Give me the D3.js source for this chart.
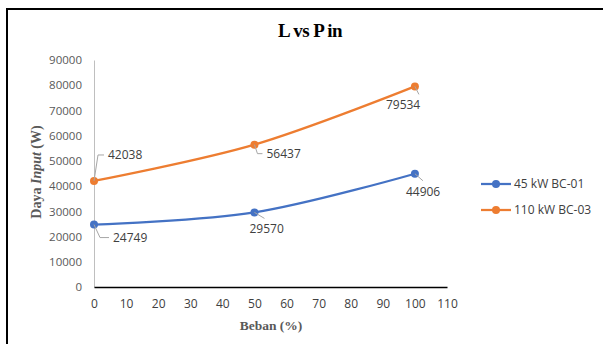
<!DOCTYPE html>
<html>
<head>
<meta charset="utf-8">
<script src="https://cdn.jsdelivr.net/npm/d3@7"></script>
<style>
  body { margin: 0; background: white; }
</style>
</head>
<body>
<div id="container"></div>
<script>
let w = 603;
let h = 344;

// DATA
let beban = [0, 50, 100];
let seriesNames = ["45 kW BC-01", "110 kW BC-03"];
let seriesColors = ["#4472c4", "#ed7d31"];
let bc01 = [24749, 29570, 44906];
let bc03 = [42038, 56437, 79534];
let xTicks = [0, 10, 20, 30, 40, 50, 60, 70, 80, 90, 100, 110];
let yTicks = [0, 10000, 20000, 30000, 40000, 50000, 60000, 70000, 80000, 90000];

// label offsets relative to point (text start x, baseline y)
let labelOffsets = [
  [[19, 17], [-5, 21], [-9, 22]],
  [[14, -22], [12, 13], [-29, 23]]
];

let viz = d3.select("#container").append("svg")
  .attr("width", w)
  .attr("height", h)
  .style("display", "block")
  .style("background-color", "white");

// frame (only top and left edges visible)
viz.append("path")
  .attr("d", "M7,344 L7,9 L603,9")
  .attr("fill", "none")
  .attr("stroke", "black")
  .attr("stroke-width", 2);

let x = d3.scaleLinear().domain([0, 110]).range([94, 447]);
let y = d3.scaleLinear().domain([0, 90000]).range([287, 60]);

let tickFont = "'Open Sans', 'Liberation Sans', sans-serif";
let serif = "'Liberation Serif', 'Times New Roman', serif";

// title
viz.append("text")
  .attr("x", 310)
  .attr("y", 37)
  .attr("text-anchor", "middle")
  .style("font-family", serif)
  .style("font-weight", "bold")
  .style("font-size", "19px")
  .style("letter-spacing", "-0.6px")
  .attr("fill", "black")
  .text("L vs P in");

// y axis
let yAxis = viz.append("g")
  .attr("transform", "translate(" + x(0) + ",0)")
  .call(d3.axisLeft(y).tickValues(yTicks).tickSize(0).tickPadding(12).tickFormat(d3.format("d")));
yAxis.select(".domain").attr("stroke", "#bfbfbf").attr("stroke-width", 1);
yAxis.selectAll("text")
  .style("font-family", tickFont)
  .style("font-size", "11.5px")
  .attr("fill", "#595959");

// x axis
let xAxis = viz.append("g")
  .attr("transform", "translate(0," + y(0) + ")")
  .call(d3.axisBottom(x).tickValues(xTicks).tickSize(0).tickPadding(12).tickFormat(d3.format("d")));
xAxis.select(".domain").attr("stroke", "black").attr("stroke-width", 1.5);
xAxis.selectAll("text")
  .style("font-family", tickFont)
  .style("font-size", "12px")
  .attr("fill", "#404040");

// axis titles
viz.append("text")
  .attr("x", 271)
  .attr("y", 330)
  .attr("text-anchor", "middle")
  .style("font-family", serif)
  .style("font-weight", "bold")
  .style("font-size", "13.5px")
  .attr("fill", "#595959")
  .text("Beban (%)");

let yTitle = viz.append("text")
  .attr("transform", "translate(41,172) rotate(-90)")
  .attr("text-anchor", "middle")
  .style("font-family", serif)
  .style("font-weight", "bold")
  .style("font-size", "14px")
  .attr("fill", "#595959");
yTitle.append("tspan").text("Daya ");
yTitle.append("tspan").style("font-style", "italic").text("Input");
yTitle.append("tspan").text(" (W)");

// series
let allSeries = [bc01, bc03];
let lineMaker = d3.line()
  .x((d, i) => x(beban[i]))
  .y(d => y(d))
  .curve(d3.curveCatmullRom.alpha(0.5));

allSeries.forEach((vals, s) => {
  viz.append("path")
    .datum(vals)
    .attr("d", lineMaker)
    .attr("fill", "none")
    .attr("stroke", seriesColors[s])
    .attr("stroke-width", 2.25);

  viz.selectAll(".pt" + s).data(vals).enter()
    .append("circle")
    .attr("class", "pt" + s)
    .attr("cx", (d, i) => x(beban[i]))
    .attr("cy", d => y(d))
    .attr("r", 4)
    .attr("fill", seriesColors[s]);

  // labels with leader lines
  vals.forEach((v, i) => {
    let px = x(beban[i]);
    let py = y(v);
    let off = labelOffsets[s][i];
    let lx = px + off[0];
    let ly = py + off[1];
    viz.append("text")
      .attr("x", lx)
      .attr("y", ly)
      .style("font-family", tickFont)
      .style("font-size", "12px")
      .attr("fill", "#404040")
      .text(v);
    let lead;
    if (s == 0 && i == 0) lead = [[px, py], [px + 6, ly - 4], [lx - 4, ly - 4]];
    else if (s == 0 && i == 1) lead = [[px, py], [px + 10, py + 6]];
    else if (s == 0 && i == 2) lead = [[px, py], [px + 8, py + 7]];
    else if (s == 1 && i == 0) lead = [[px, py], [px + 4, ly - 4], [lx - 4, ly - 4]];
    else if (s == 1 && i == 1) lead = [[px, py], [px + 3, ly - 4], [lx - 4, ly - 4]];
    else lead = [[px, py], [px + 4, py + 8]];
    viz.append("path")
      .attr("d", d3.line()(lead))
      .attr("fill", "none")
      .attr("stroke", "#a6a6a6")
      .attr("stroke-width", 1);
  });
});

// legend
seriesNames.forEach((name, s) => {
  let ly = 184 + s * 26;
  viz.append("line")
    .attr("x1", 481).attr("x2", 511)
    .attr("y1", ly).attr("y2", ly)
    .attr("stroke", seriesColors[s])
    .attr("stroke-width", 2.25);
  viz.append("circle")
    .attr("cx", 496).attr("cy", ly).attr("r", 4)
    .attr("fill", seriesColors[s]);
  viz.append("text")
    .attr("x", 514)
    .attr("y", ly + 4)
    .style("font-family", tickFont)
    .style("font-size", "12px")
    .attr("fill", "#404040")
    .text(name);
});
</script>
</body>
</html>
